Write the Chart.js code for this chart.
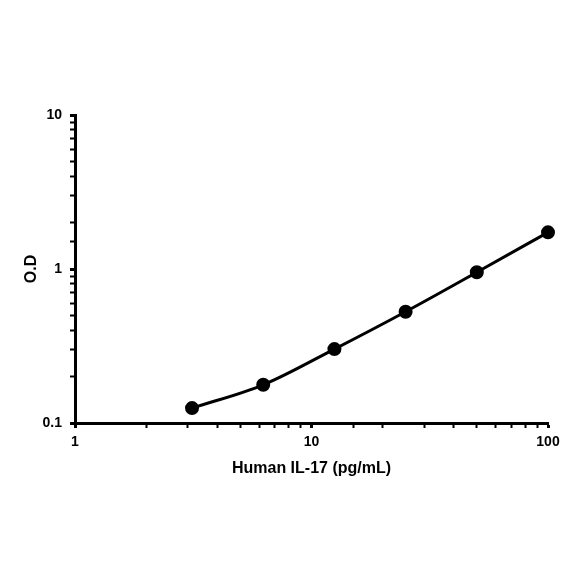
<!DOCTYPE html>
<html>
<head>
<meta charset="utf-8">
<script src="https://cdn.jsdelivr.net/npm/chart.js@4/dist/chart.umd.min.js"></script>
<style>
  html, body { margin: 0; padding: 0; background: #fff; }
  #wrap { width: 584px; height: 584px; }
</style>
</head>
<body>
<div id="wrap"><canvas id="myChart"></canvas></div>
<script>
// standard curve values
const concentrations = [3.125, 6.25, 12.5, 25, 50, 100];
const odValues = [0.125, 0.177, 0.302, 0.528, 0.952, 1.73];
const xTickLabels = [1, 10, 100];
const yTickLabels = [0.1, 1, 10];

const font = { family: 'Arial, "Liberation Sans", sans-serif', weight: 'bold' };

function isMajor(value, list) {
    return list.some(v => Math.abs(v - value) < 1e-9);
}

const ctx = document.getElementById('myChart').getContext('2d');

new Chart(ctx, {
    type: 'line',
    data: {
        datasets: [{
            data: concentrations.map((c, i) => ({ x: c, y: odValues[i] })),
            borderColor: '#000',
            backgroundColor: '#000',
            borderWidth: 3,
            pointRadius: 5.5,
            pointHoverRadius: 5.5,
            cubicInterpolationMode: 'monotone',
            clip: false
        }]
    },
    options: {
        responsive: true,
        maintainAspectRatio: false,
        animation: false,
        layout: { padding: { top: 115, right: 36, bottom: 106, left: 22 } },
        plugins: { legend: { display: false }, tooltip: { enabled: false } },
        scales: {
            x: {
                type: 'logarithmic',
                min: 1,
                max: 100,
                afterFit: (scale) => { scale.height = 55; },
                border: { color: '#000', width: 3 },
                grid: {
                    drawOnChartArea: false,
                    drawTicks: true,
                    tickLength: 5,
                    tickColor: '#000',
                    tickWidth: (c) => isMajor(c.tick.value, xTickLabels) ? 3 : 2
                },
                ticks: {
                    color: '#000',
                    font: { ...font, size: 14 },
                    padding: 6,
                    autoSkip: false,
                    maxRotation: 0,
                    callback: (v) => isMajor(v, xTickLabels) ? String(v) : ''
                },
                title: {
                    display: true,
                    text: 'Human IL-17 (pg/mL)',
                    color: '#000',
                    font: { ...font, size: 16 },
                    padding: { top: 10, bottom: 0 }
                }
            },
            y: {
                type: 'logarithmic',
                min: 0.1,
                max: 10,
                afterFit: (scale) => { scale.width = 53; },
                border: { color: '#000', width: 3 },
                grid: {
                    drawOnChartArea: false,
                    drawTicks: true,
                    tickLength: 5,
                    tickColor: '#000',
                    tickWidth: (c) => isMajor(c.tick.value, yTickLabels) ? 3 : 2
                },
                ticks: {
                    color: '#000',
                    font: { ...font, size: 14 },
                    padding: 8,
                    autoSkip: false,
                    callback: (v) => isMajor(v, yTickLabels) ? String(v) : ''
                },
                title: {
                    display: true,
                    text: 'O.D',
                    color: '#000',
                    font: { ...font, size: 16 },
                    padding: { top: 0, bottom: 0 }
                }
            }
        }
    }
});
</script>
</body>
</html>
